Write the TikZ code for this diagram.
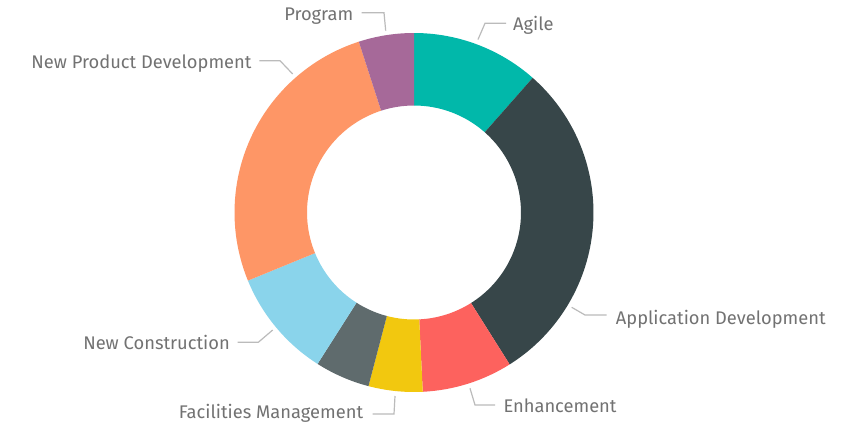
\documentclass[tikz,border=0pt]{standalone}
\usepackage{fontspec}
\setmainfont{Fira Sans}
\usetikzlibrary{calc}
\definecolor{cAgile}{HTML}{01B8AA}
\definecolor{cApp}{HTML}{374649}
\definecolor{cEnh}{HTML}{FD625E}
\definecolor{cFac}{HTML}{F2C80F}
\definecolor{cGray}{HTML}{5F6B6D}
\definecolor{cNC}{HTML}{8AD4EB}
\definecolor{cNPD}{HTML}{FE9666}
\definecolor{cProg}{HTML}{A66999}
\definecolor{labeltext}{HTML}{727272}
\definecolor{leader}{HTML}{BBBBBB}
\tikzset{
  lbl/.style={inner sep=0pt, text=labeltext, font=\fontsize{18.3}{21}\selectfont},
  leadline/.style={draw=leader, line width=1.2pt},
}
\newcommand{\slice}[3]{%
  \fill[#3] ($(C)+(#1:179.5)$) arc[start angle=#1, end angle=#2, radius=179.5]
    -- ($(C)+(#2:107)$) arc[start angle=#2, end angle=#1, radius=107] -- cycle;}
\begin{document}
\begin{tikzpicture}[x=1pt,y=-1pt]
\useasboundingbox (0,0) rectangle (852,426);
\fill[white] (0,0) rectangle (852,426);
\coordinate (C) at (414,212.5);
\slice{-90}{-48.6}{cAgile}
\slice{-48.6}{57.8}{cApp}
\slice{57.8}{87.2}{cEnh}
\slice{87.2}{104.7}{cFac}
\slice{104.7}{122.5}{cGray}
\slice{122.5}{157.7}{cNC}
\slice{157.7}{252.1}{cNPD}
\slice{252.1}{270}{cProg}
% labels
\node[lbl, anchor=base west] (agile) at (513,30.7) {Agile};
\node[lbl, anchor=base east] (prog) at (353.5,20.7) {Program};
\node[lbl, anchor=base east] (npd) at (251.7,68.3) {New Product Development};
\node[lbl, anchor=base east] (nc) at (230,349.3) {New Construction};
\node[lbl, anchor=base east] (fac) at (363.3,418.3) {Facilities Management};
\node[lbl, anchor=base west] (enh) at (503.3,412.3) {Enhancement};
\node[lbl, anchor=base west] (app) at (615.7,324) {Application Development};
% leader coordinates
\coordinate (agileA) at (478,39.5);
\coordinate (agileB) at (485,23.3);
\coordinate (agileC) at (506,23.3);
\coordinate (progA) at (385.7,30.7);
\coordinate (progB) at (384,12.7);
\coordinate (progC) at (361.7,12.7);
\coordinate (npdA) at (292.7,74);
\coordinate (npdB) at (280,60.7);
\coordinate (npdC) at (259.3,60.7);
\coordinate (ncA) at (272.7,330);
\coordinate (ncB) at (258.3,342.3);
\coordinate (ncC) at (237.7,342.3);
\coordinate (facA) at (395,396);
\coordinate (facB) at (394,414);
\coordinate (facC) at (372.7,414);
\coordinate (enhA) at (470,388.3);
\coordinate (enhB) at (475,405);
\coordinate (enhC) at (495,405);
\coordinate (appA) at (571.7,307.3);
\coordinate (appB) at (585,315);
\coordinate (appC) at (606.7,315);
\draw[leadline] (agileA) -- (agileB) -- (agileC);
\draw[leadline] (progA) -- (progB) -- (progC);
\draw[leadline] (npdA) -- (npdB) -- (npdC);
\draw[leadline] (ncA) -- (ncB) -- (ncC);
\draw[leadline] (facA) -- (facB) -- (facC);
\draw[leadline] (enhA) -- (enhB) -- (enhC);
\draw[leadline] (appA) -- (appB) -- (appC);
\end{tikzpicture}
\end{document}
